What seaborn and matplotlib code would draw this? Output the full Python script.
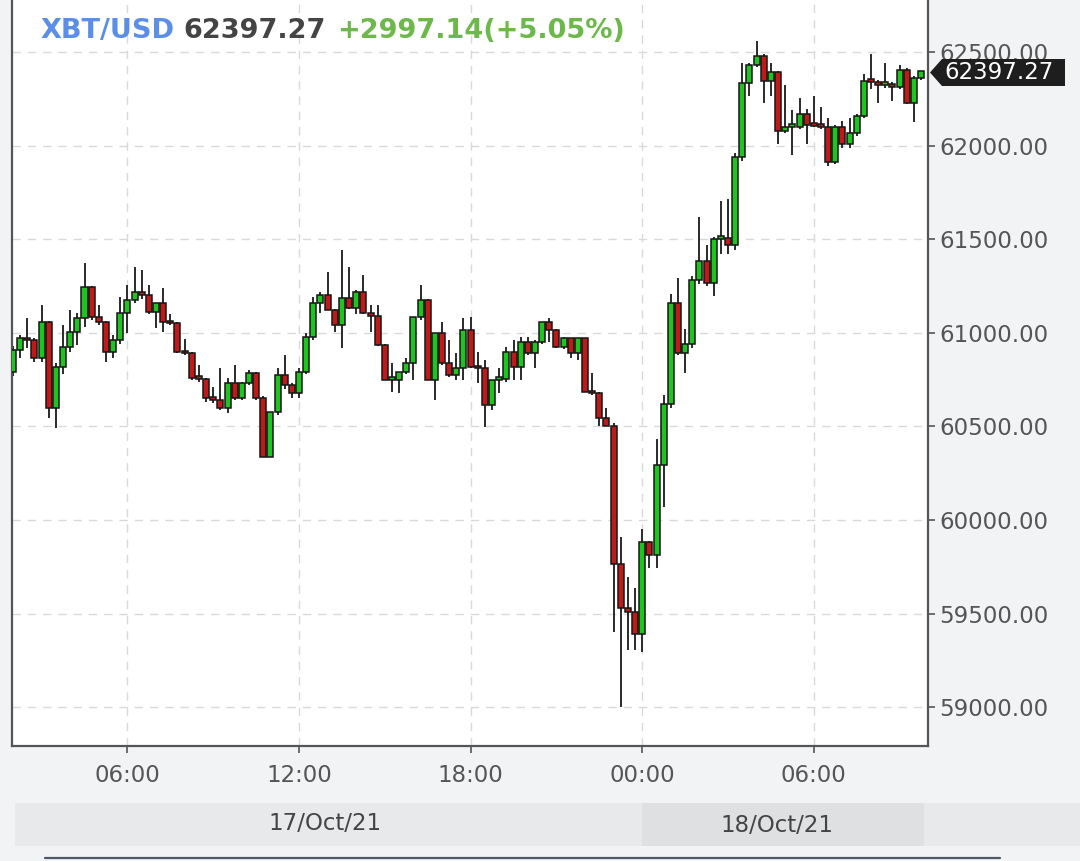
import numpy as np
import pandas as pd
import matplotlib
matplotlib.use("Agg")
import matplotlib.pyplot as plt
import seaborn as sns
from matplotlib.patches import Rectangle, Polygon
from matplotlib.lines import Line2D

sns.set_theme(style="white")
plt.rcParams['font.family'] = ['DejaVu Sans']

# ---------------- data ----------------
symbol = "XBT/USD"
prev_close = 59400.13
times = pd.date_range("2021-10-17 02:00", periods=128, freq="15min")

opens = [60792, 60908, 60972, 60961, 60865, 61058, 60598, 60817, 60924, 61004,
         61079, 61245, 61084, 61058, 60897, 60961, 61106, 61175, 61218, 61202,
         61111, 61159, 61058, 61050, 60897, 60890, 60758, 60753, 60652, 60641,
         60598, 60732, 60652, 60732, 60785, 60652, 60337, 60577, 60775, 60721,
         60678, 60791, 60978, 61159, 61202, 61122, 61042, 61186, 61132, 61218,
         61106, 61090, 60935, 60748, 60748, 60790, 60839, 61086, 61175, 60748,
         60997, 60837, 60773, 60810, 61015, 60819, 60810, 60614, 60748, 60755,
         60899, 60819, 60952, 60890, 60952, 61059, 61015, 60926, 60970, 60890,
         60970, 60686, 60677, 60543, 60505, 59766, 59531, 59508, 59390, 59883,
         59813, 60294, 60622, 61162, 60892, 60939, 61280, 61385, 61268, 61502,
         61505, 61467, 61937, 62336, 62430, 62477, 62347, 62394, 62077, 62100,
         62100, 62171, 62112, 62105, 62100, 61913, 62100, 62007, 62066, 62159,
         62347, 62340, 62324, 62330, 62312, 62406, 62230, 62359]
highs = [60930, 60988, 61079, 60970, 61148, 61065, 60840, 61042, 61122, 61106,
         61373, 61250, 61148, 61065, 60988, 61191, 61255, 61351, 61335, 61255,
         61159, 61239, 61100, 61060, 60965, 60900, 60830, 60760, 60712, 60812,
         60760, 60828, 60740, 60800, 60790, 60660, 60577, 60812, 60881, 60730,
         60812, 61000, 61193, 61218, 61326, 61130, 61442, 61353, 61230, 61309,
         61148, 61148, 60940, 60837, 60790, 60864, 61086, 61255, 61180, 60997,
         61059, 60961, 60890, 61077, 61086, 60899, 60855, 60748, 60812, 60926,
         60961, 60979, 60979, 60960, 61059, 61077, 61020, 60980, 60975, 60975,
         60975, 60784, 60685, 60599, 60520, 59907, 59695, 59637, 59953, 59890,
         60435, 60669, 61209, 61291, 61021, 61303, 61620, 61467, 61510, 61702,
         61714, 61960, 62441, 62441, 62559, 62490, 62441, 62400, 62324, 62190,
         62254, 62195, 62265, 62207, 62150, 62110, 62130, 62150, 62170, 62382,
         62488, 62350, 62441, 62340, 62430, 62415, 62370, 62400]
lows = [60770, 60865, 60919, 60844, 60844, 60545, 60491, 60780, 60900, 60935,
        61030, 61070, 61040, 60844, 60865, 60940, 61000, 61160, 61180, 61100,
        61026, 61004, 61040, 60890, 60880, 60750, 60740, 60630, 60625, 60590,
        60572, 60640, 60640, 60720, 60640, 60337, 60337, 60560, 60700, 60650,
        60650, 60780, 60960, 61106, 61150, 61004, 60919, 61130, 61100, 61100,
        61006, 60930, 60748, 60685, 60680, 60780, 60748, 61070, 60748, 60641,
        60830, 60765, 60748, 60748, 60810, 60730, 60498, 60588, 60678, 60740,
        60748, 60748, 60880, 60812, 60940, 60952, 60920, 60915, 60864, 60855,
        60686, 60670, 60505, 60500, 59402, 59003, 59308, 59308, 59296, 59742,
        59742, 60071, 60600, 60880, 60787, 60920, 61260, 61250, 61198, 61420,
        61420, 61440, 61920, 62265, 62420, 62230, 62265, 62007, 62070, 61948,
        62090, 62007, 62100, 62090, 61890, 61900, 61990, 61990, 62050, 62150,
        62300, 62230, 62310, 62241, 62300, 62220, 62124, 62350]
closes = [60908, 60972, 60961, 60865, 61058, 60598, 60817, 60924, 61004, 61079,
          61245, 61084, 61058, 60897, 60961, 61106, 61175, 61218, 61202, 61111,
          61159, 61058, 61050, 60897, 60890, 60758, 60753, 60652, 60641, 60598,
          60732, 60652, 60732, 60785, 60652, 60337, 60577, 60775, 60721, 60678,
          60791, 60978, 61159, 61202, 61122, 61042, 61186, 61132, 61218, 61106,
          61090, 60935, 60748, 60748, 60790, 60839, 61086, 61175, 60748, 60997,
          60837, 60773, 60810, 61015, 60819, 60810, 60614, 60748, 60755, 60899,
          60819, 60952, 60890, 60952, 61059, 61015, 60926, 60970, 60890, 60970,
          60686, 60677, 60543, 60505, 59766, 59531, 59508, 59390, 59883, 59813,
          60294, 60622, 61162, 60892, 60939, 61280, 61385, 61268, 61502, 61505,
          61467, 61937, 62336, 62430, 62477, 62347, 62394, 62077, 62100, 62100,
          62171, 62112, 62105, 62100, 61913, 62100, 62007, 62066, 62159, 62347,
          62340, 62324, 62330, 62312, 62406, 62230, 62359, 62397.27]
price_ticks = [59000, 59500, 60000, 60500, 61000, 61500, 62000, 62500]
date_labels = ["17/Oct/21", "18/Oct/21"]

# ---------------- figure ----------------
W, H = 1080, 861
BG = "#f2f3f5"
fig = plt.figure(figsize=(W / 100, H / 100), dpi=100, facecolor=BG)

def fx(px):
    return px / W

def fy(py):
    return 1 - py / H

ax = fig.add_axes([fx(12), fy(746), fx(928) - fx(12), fy(0) - fy(746)])
ax.set_facecolor("white")

df = pd.DataFrame({"t": times, "open": opens, "high": highs,
                   "low": lows, "close": closes})
df["x"] = np.arange(len(df))
up = df["close"] >= df["open"]
body_colors = np.where(up, "#20c420", "#bf1a1a")
body_bottom = np.minimum(df["open"], df["close"])
body_h = np.maximum((df["close"] - df["open"]).abs(), 14)

ax.vlines(df["x"], df["low"], df["high"], color="#2a2a2a", lw=1.4, zorder=2)
ax.bar(df["x"], body_h, bottom=body_bottom, width=0.84, color=body_colors,
       edgecolor="#161616", linewidth=1.1, zorder=3)

ax.set_xlim(-0.14, 127.97)
ax.set_ylim(58793, 62778)

# ticks
ax.yaxis.tick_right()
ax.set_yticks(price_ticks)
ax.set_yticklabels([f"{v:.2f}" for v in price_ticks])
tick_idx = [i for i, t in enumerate(times) if t.minute == 0 and t.hour % 6 == 0]
ax.set_xticks(tick_idx)
ax.set_xticklabels([times[i].strftime("%H:%M") for i in tick_idx])
ax.tick_params(axis="y", which="both", right=True, left=False, direction="out",
               length=5, width=1.2, color="#555555", labelsize=16.5,
               labelcolor="#555555", pad=3)
ax.tick_params(axis="x", which="both", bottom=True, direction="out",
               length=5, width=1.2, color="#555555", labelsize=16.5,
               labelcolor="#555555", pad=8)

ax.grid(True, color="#d9d9d9", linestyle=(0, (6, 5)), lw=1.0, zorder=0)
ax.set_axisbelow(True)
for side in ["left", "bottom", "right"]:
    ax.spines[side].set_visible(True)
    ax.spines[side].set_color("#555555")
    ax.spines[side].set_linewidth(1.6)
ax.spines["top"].set_visible(False)

# title
last = closes[-1]
chg = last - prev_close
pct = chg / prev_close * 100
tfont = dict(fontsize=19.5, fontweight="bold", va="baseline")
fig.text(fx(40), fy(38), symbol, color="#5a8ee8", **tfont)
fig.text(fx(183), fy(38), f"{last:.2f}", color="#444444", **tfont)
fig.text(fx(337), fy(38), f"{chg:+.2f}({pct:+.2f}%)", color="#6cb84a", **tfont)

# last price marker
py = 72.5
poly = Polygon([(fx(930), fy(py)), (fx(942), fy(59)), (fx(1065), fy(59)),
                (fx(1065), fy(86)), (fx(942), fy(86))], closed=True,
               transform=fig.transFigure, facecolor="#1e1e1e", edgecolor="none",
               zorder=10)
fig.add_artist(poly)
fig.text(fx(944), fy(py), f"{last:.2f}", color="white", fontsize=16.5,
         va="center", ha="left", zorder=11)

# date band
fig.add_artist(Rectangle((fx(15), fy(846)), fx(1080) - fx(15), fy(803) - fy(846),
                         transform=fig.transFigure, facecolor="#e8e9eb",
                         edgecolor="none", zorder=1))
fig.add_artist(Rectangle((fx(642), fy(846)), fx(924) - fx(642), fy(803) - fy(846),
                         transform=fig.transFigure, facecolor="#dfe0e2",
                         edgecolor="none", zorder=1))
fig.text(fx(325), fy(823), date_labels[0], color="#444444", fontsize=16.5,
         ha="center", va="center", zorder=2)
fig.text(fx(777), fy(826), date_labels[1], color="#444444", fontsize=16.5,
         ha="center", va="center", zorder=2)

fig.add_artist(Line2D([fx(45), fx(1000)], [fy(858), fy(858)],
                      transform=fig.transFigure, color="#4f5968", lw=1.6))

fig.savefig("out.png", dpi=100, facecolor=BG)
